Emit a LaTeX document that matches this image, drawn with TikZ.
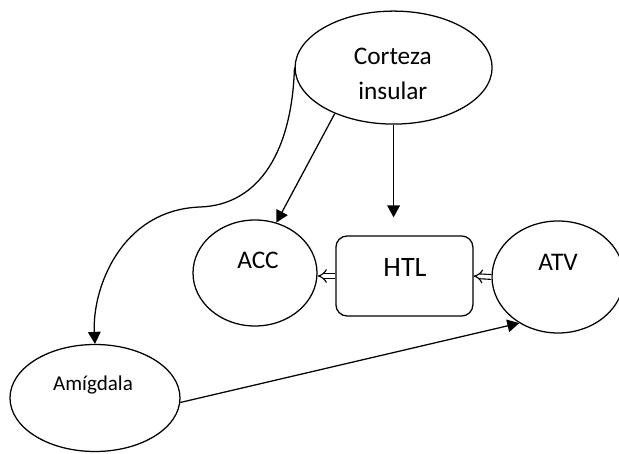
\documentclass[tikz,border=0pt]{standalone}
\usepackage{fontspec}
\setmainfont{Carlito}
\usepackage{tikz}
\usetikzlibrary{arrows.meta,shapes,positioning,calc}
\tikzstyle{region} = [ellipse, draw, line width=0.9pt, inner sep=0pt]
\tikzstyle{arrow} = [line width=0.9pt, -{Triangle[length=8.5pt,width=9pt]}]
\tikzstyle{openarrow} = [double, line width=0.8pt, double distance=2.6pt, -{Implies}]
\tikzstyle{lbl} = [font=\fontsize{18}{20}\selectfont, align=center]

\begin{document}
\begin{tikzpicture}
    \useasboundingbox (0,0) rectangle (15.475,11.35);

    % areas
    \node[region, minimum width=4.925cm, minimum height=2.825cm] (corteza) at (9.84,9.66) {};
    \node[lbl] (cortezatxt) at (9.82,9.5) {Corteza\\[0.18cm]insular};
    \node[region, minimum width=3.1cm, minimum height=2.65cm] (acc) at (6.375,4.525) {};
    \node[lbl] (acctxt) at (6.45,4.85) {ACC};
    \node[rectangle, draw, line width=0.9pt, rounded corners=8pt, minimum width=3.425cm, minimum height=2cm] (htl) at (10.11,4.45) {};
    \node[lbl, font=\fontsize{20}{22}\selectfont] (htltxt) at (10.125,4.675) {HTL};
    \node[region, minimum width=3.3cm, minimum height=2.8cm] (atv) at (13.95,4.425) {};
    \node[lbl] (atvtxt) at (13.95,4.8) {ATV};
    \node[region, minimum width=4.25cm, minimum height=2.675cm] (amy) at (2.375,1.4) {};
    \node[lbl, font=\fontsize{15}{17}\selectfont] (amytxt) at (2.325,1.725) {Amígdala};

    \coordinate (bend) at (5,6.175);

    % connections
    \draw[arrow] (corteza.218) -- (acc.67);
    \draw[arrow] (corteza.south) -- ($(corteza.south |- htl.north)+(0,0.45)$);
    \draw[arrow] (corteza.west) .. controls (7.3,7.6) and (6.5,6.225) .. (bend)
        .. controls (3.0,6.1) and (2.3,4.1) .. (amy.north);
    \draw[arrow] (amy.-3) -- (atv.230);
    \draw[openarrow] (htl.west) -- (htl.west -| acc.east);
    \draw[openarrow] (atv.west) -- (htl.east);
\end{tikzpicture}
\end{document}
